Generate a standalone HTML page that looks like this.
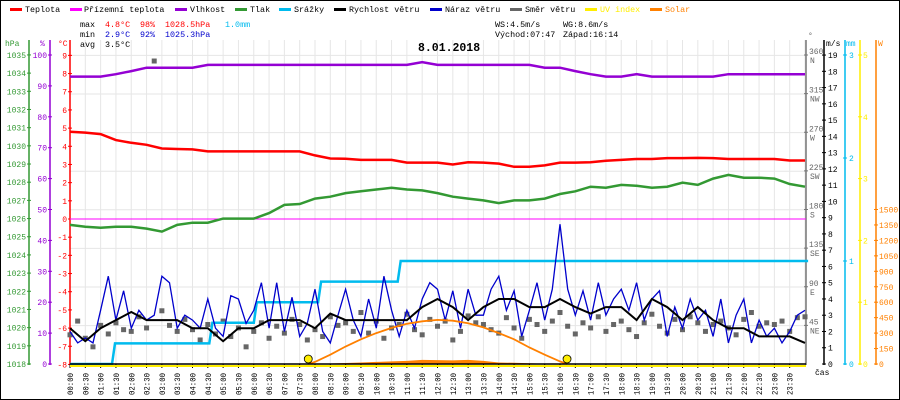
<!DOCTYPE html>
<html><head><meta charset="utf-8">
<style>
html,body{margin:0;padding:0;background:#fff}
svg{display:block;font-family:"Liberation Mono",monospace}
</style></head>
<body>
<svg id="c" width="900" height="400" viewBox="0 0 900 400" xmlns="http://www.w3.org/2000/svg">
<rect x="0.5" y="0.5" width="899" height="399" fill="#fff" stroke="#000"/>
<g id="grid"></g>
<g font-size="8.4">
 <g><rect x="10" y="8" width="12" height="3" fill="#f00"/><text x="25" y="12">Teplota</text></g>
 <g><rect x="70" y="8" width="12" height="3" fill="#f0f"/><text x="84" y="12">Přízemní teplota</text></g>
 <g><rect x="175" y="8" width="12" height="3" fill="#9400d3"/><text x="190" y="12">Vlhkost</text></g>
 <g><rect x="235" y="8" width="12" height="3" fill="#339933"/><text x="250" y="12">Tlak</text></g>
 <g><rect x="279" y="8" width="12" height="3" fill="#00bbee"/><text x="294" y="12">Srážky</text></g>
 <g><rect x="334" y="8" width="12" height="3" fill="#000"/><text x="349" y="12">Rychlost větru</text></g>
 <g><rect x="430" y="8" width="12" height="3" fill="#0000cc"/><text x="445" y="12">Náraz větru</text></g>
 <g><rect x="510" y="8" width="12" height="3" fill="#666"/><text x="525" y="12">Směr větru</text></g>
 <g><rect x="585" y="8" width="12" height="3" fill="#ffee00"/><text x="600" y="12" fill="#ffee00">UV index</text></g>
 <g><rect x="650" y="8" width="12" height="3" fill="#ff8000"/><text x="665" y="12" fill="#ff8000">Solar</text></g>
</g>
<g font-size="8.4">
 <text x="80" y="27">max</text><text x="105" y="27" fill="#f00">4.8°C</text><text x="140" y="27" fill="#f00">98%</text><text x="165" y="27" fill="#f00">1028.5hPa</text><text x="225" y="27" fill="#00bbee">1.0mm</text>
 <text x="80" y="37">min</text><text x="105" y="37" fill="#0000cc">2.9°C</text><text x="140" y="37" fill="#0000cc">92%</text><text x="165" y="37" fill="#0000cc">1025.3hPa</text>
 <text x="80" y="47">avg</text><text x="105" y="47">3.5°C</text>
 <text x="495" y="27">WS:4.5m/s</text><text x="563" y="27">WG:8.6m/s</text>
 <text x="495" y="37">Východ:07:47</text><text x="563" y="37">Západ:16:14</text>
</g>
<text x="418" y="51" font-size="11.5" font-weight="bold">8.01.2018</text>
<g id="axes" font-size="8"></g>
<g id="series"></g>
</svg>
<script>
// ---- data (half-hourly, 0..24h) ----
const hours = Array.from({length:49},(_,i)=>i/2);
const tempC = [4.8,4.75,4.67,4.34,4.19,4.08,3.88,3.85,3.83,3.72,3.72,3.72,3.72,3.72,3.72,3.72,3.5,3.33,3.31,3.25,3.25,3.25,3.1,3.1,3.1,3.0,3.12,3.1,3.05,2.87,2.87,2.95,3.1,3.1,3.12,3.2,3.25,3.3,3.3,3.35,3.35,3.36,3.35,3.3,3.3,3.3,3.3,3.22,3.22];
const humidity = [93,93,93,93.8,94.8,95.9,95.9,95.9,95.9,96.8,96.8,96.8,96.8,96.8,96.8,96.8,96.8,96.8,96.8,96.8,96.8,96.8,96.8,97.7,96.8,96.8,96.8,96.8,96.8,96.8,96.8,95.9,95.9,94.8,93.8,93,93,93.8,93,93,93,93,93,93.8,93.8,93.8,93.8,93.8,93.8];
const pressure = [1025.65,1025.55,1025.5,1025.55,1025.55,1025.45,1025.28,1025.65,1025.77,1025.77,1026.0,1026.0,1026.0,1026.3,1026.75,1026.8,1027.1,1027.2,1027.4,1027.5,1027.6,1027.7,1027.6,1027.55,1027.4,1027.2,1027.1,1027.0,1026.85,1027.0,1027.0,1027.1,1027.35,1027.5,1027.75,1027.7,1027.85,1027.8,1027.7,1027.75,1027.97,1027.85,1028.2,1028.4,1028.25,1028.25,1028.2,1027.9,1027.75];
const windSpeed = [2.2,1.4,2.2,2.7,3.2,2.7,2.7,2.7,2.2,2.2,1.4,2.2,2.2,2.7,2.7,2.7,2.2,3.1,2.7,2.7,2.7,2.7,2.7,3.5,4.0,3.5,2.7,3.5,4.0,4.0,3.5,3.5,4.0,3.5,3.1,3.5,3.5,2.7,4.0,3.5,2.7,3.5,2.7,2.2,2.2,1.7,1.7,1.7,1.3];
// quarter-hourly
const quarterHours = Array.from({length:97},(_,i)=>i/4);
const windGust = [2.0,1.3,1.6,1.3, 3.3,5.4,2.7,4.5, 2.2,3.3,2.7,3.0, 5.4,5.0,2.2,3.0, 2.7,2.2,4.0,2.2, 1.7,4.2,4.0,2.5, 3.3,5.0,2.2,5.0, 2.0,4.1,1.7,2.5, 4.6,2.0,1.3,3.0, 4.6,2.7,1.7,4.0, 2.2,5.4,3.3,1.7, 3.3,2.2,4.0,5.0, 4.6,2.7,4.5,2.2, 4.6,3.0,3.0,4.6, 5.4,3.3,4.5,1.7, 3.3,5.0,2.7,4.6, 8.6,4.6,3.0,4.5, 2.7,5.0,3.0,4.0, 4.6,3.3,5.0,2.7, 4.0,4.5,1.7,3.5, 2.2,4.0,2.7,3.3, 1.7,4.0,1.3,3.0, 4.0,1.3,2.7,1.7, 2.2,1.3,2.0,3.0, 3.3];
const windDir = [34,50,30,20, 45,35,48,40, 38,55,42,353, 62,45,38,52, 40,28,46,35, 50,32,42,20, 38,48,30,44, 36,52,46,28, 40,32,55,45, 48,38,60,36, 50,30,42,46, 58,40,34,52, 44,50,28,38, 56,48,46,40, 36,54,42,30, 52,46,38,50, 60,44,35,48, 42,55,38,46, 50,40,32,48, 58,44,36,52, 40,55,48,38, 46,50,42,34, 52,60,44,48, 46,50,38,54, 55];
const rainTimes = [0,1.37,4.55,6.0,8.1,10.7,24];
const rainMm = [0,0.2,0.4,0.6,0.8,1.0,1.0];
const solarTimes = [7.78,8,8.5,9,9.5,10,10.5,11,11.5,12,12.5,13,13.5,14,14.5,15,15.5,16,16.23];
const solarMax = [0,20,90,170,240,300,350,390,415,428,420,395,355,300,240,160,90,25,0];
const solarActual = [0,0,5,10,15,20,25,30,40,38,35,40,30,15,12,8,3,0,0];
const sunEvents = [7.78,16.23];
// ticks
const hpaTicks = [1018,1019,1020,1021,1022,1023,1024,1025,1026,1027,1028,1029,1030,1031,1032,1033,1034,1035];
const humTicks = [0,10,20,30,40,50,60,70,80,90,100];
const tempTicks = [-8,-7,-6,-5,-4,-3,-2,-1,0,1,2,3,4,5,6,7,8,9];
const dirTicks = [45,90,135,180,225,270,315,360];
const dirNames = ['NE','E','SE','S','SW','W','NW','N'];
const msTicks = [0,1,2,3,4,5,6,7,8,9,10,11,12,13,14,15,16,17,18,19];
const mmTicks = [0,1,2,3];
const uvTicks = [0,1,2,3,4,5];
const wTicks = [0,150,300,450,600,750,900,1050,1200,1350,1500];

// ---- scales ----
const X = h => 70 + h*30.625;
const yT = t => 219 - t*18.18;
const yP = p => 364 - (p-1018)*18.18;
const yH = v => 364 - v*3.09;
const yW = v => 364 - v*16.26;
const yD = d => 364 - d*0.8583;
const yR = m => 364 - m*103;
const yS = w => 364 - w*0.103;
const yU = u => 364 - u*61.8;

const NS='http://www.w3.org/2000/svg';
function mk(tag, attrs, parent){const e=document.createElementNS(NS,tag);for(const k in attrs)e.setAttribute(k,attrs[k]);parent.appendChild(e);return e;}
const grid=document.getElementById('grid'), axes=document.getElementById('axes'), ser=document.getElementById('series');

// grid
for(let i=0;i<=48;i++){const l=mk('line',{x1:X(i/2),x2:X(i/2),y1:40,y2:364,stroke:'#e6e6e6'},grid);

}
for(let i=0;i<=8;i++){const y=55.4+i*38.6;const l=mk('line',{x1:70,x2:806,y1:y,y2:y,stroke:'#e6e6e6'},grid);

}

function axis(x,color,ticks,fy,labelX,anchor,name,fmt){
  const g=mk('g',{},axes);
  
  
  mk('line',{x1:x,x2:x,y1:40,y2:365,stroke:color,'stroke-width':1.5},g);
  ticks.forEach((t,i)=>{const y=fy(t);mk('line',{x1:x-2,x2:x+2,y1:y,y2:y,stroke:color},g);
    const tx=mk('text',{x:labelX,y:y+3,fill:color,'text-anchor':anchor},g);tx.textContent=fmt?fmt(t,i):t;});
  return g;
}
axis(29,'#339933',hpaTicks,yP,26,'end','hpa-axis');
axis(50,'#9400d3',humTicks,yH,47,'end','humidity-axis');
axis(70,'#ff0000',tempTicks,yT,67,'end','temp-axis');
axis(824,'#000',msTicks,yW,828,'start','wind-speed-axis');
axis(845,'#00bbee',mmTicks,yR,849,'start','rain-axis');
axis(860,'#ffee00',uvTicks,yU,863,'start','uv-axis');
axis(876,'#ff8000',wTicks,yS,879,'start','solar-axis');
// direction axis
{const g=mk('g',{},axes);


mk('line',{x1:806,x2:806,y1:40,y2:365,stroke:'#777','stroke-width':1.5},g);
dirTicks.forEach((d,i)=>{const y=yD(d);mk('line',{x1:804,x2:808,y1:y,y2:y,stroke:'#777'},g);
 const a=mk('text',{x:809,y:y-1,fill:'#666'},g);a.textContent=d;
 const b=mk('text',{x:810,y:y+8,fill:'#666'},g);b.textContent=dirNames[i];});}
[['hPa',5,46,'#339933'],['%',40,46,'#9400d3'],['°C',58,46,'#f00'],['°',808,38,'#666'],['m/s',826,46,'#000'],['mm',846,46,'#00bbee'],['W',878,46,'#ff8000'],['čas',815,375,'#000']].forEach(a=>{
 const t=mk('text',{x:a[1],y:a[2],fill:a[3]},axes);t.textContent=a[0];
 
 });
// x labels
for(let i=0;i<48;i++){const h=i/2;const lab=String(Math.floor(h)).padStart(2,'0')+':'+(i%2?'30':'00');
 const t=mk('text',{transform:`translate(${X(h)+3},395) rotate(-90)`,'font-size':8,textLength:22,lengthAdjust:'spacingAndGlyphs'},axes);t.textContent=lab;
 
 
 mk('line',{x1:X(h),x2:X(h),y1:364,y2:368,stroke:'#000'},axes);}

function path(xs,ys,fx,fy,attrs,name){const d=xs.map((x,i)=>(i?'L':'M')+X(x).toFixed(1)+','+fy(ys[i]).toFixed(1)).join('');
 const p=mk('path',Object.assign({d,fill:'none'},attrs),ser);
 
 return p;}

// solar actual area
{const d='M'+X(solarTimes[0])+',364'+solarTimes.map((t,i)=>'L'+X(t).toFixed(1)+','+yS(solarActual[i]).toFixed(1)).join('')+'L'+X(solarTimes[solarTimes.length-1])+',364Z';
 const p=mk('path',{d,fill:'#ff8000'},ser);
 
 }
// zero line (přízemní teplota)
{const l=mk('line',{x1:70,x2:806,y1:yT(0),y2:yT(0),stroke:'#ff00ff','stroke-width':1},ser);
 
 }
// direction squares
windDir.forEach((d,i)=>{const r=mk('rect',{x:X(quarterHours[i])-2.5,y:yD(d)-2.5,width:5,height:5,fill:'#666'},ser);
 
 });
// rain steps
{const xs=[],ys=[];rainTimes.forEach((t,i)=>{if(i>0){xs.push(t);ys.push(rainMm[i-1]);xs.push(t+0.1);ys.push(rainMm[i]);}else{xs.push(t);ys.push(rainMm[0]);}});
 path(xs,ys,X,yR,{stroke:'#00bbee','stroke-width':2.5},'rain-line');}
path(quarterHours,windGust,X,yW,{stroke:'#0000cc','stroke-width':1.3},'wind-gust-line');
path(hours,windSpeed,X,yW,{stroke:'#000','stroke-width':2},'wind-speed-line');
path(solarTimes,solarMax,X,yS,{stroke:'#ff8000','stroke-width':1.8},'solar-max-line');
path(hours,pressure,X,yP,{stroke:'#339933','stroke-width':2.5},'pressure-line');
path(hours,tempC,X,yT,{stroke:'#ff0000','stroke-width':2.5},'temperature-line');
path(hours,humidity,X,yH,{stroke:'#9400d3','stroke-width':2.5},'humidity-line');
// baseline + uv
{const l=mk('line',{x1:70,x2:806,y1:364,y2:364,stroke:'#000','stroke-width':1.5},ser);
 
 
 const u=mk('line',{x1:70,x2:806,y1:366,y2:366,stroke:'#ffee00','stroke-width':2},ser);
 
 }
sunEvents.forEach(t=>{const c=mk('circle',{cx:X(t),cy:359,r:4,fill:'#ffee00',stroke:'#000','stroke-width':0.8},ser);
 
 });
</script>
</body></html>
